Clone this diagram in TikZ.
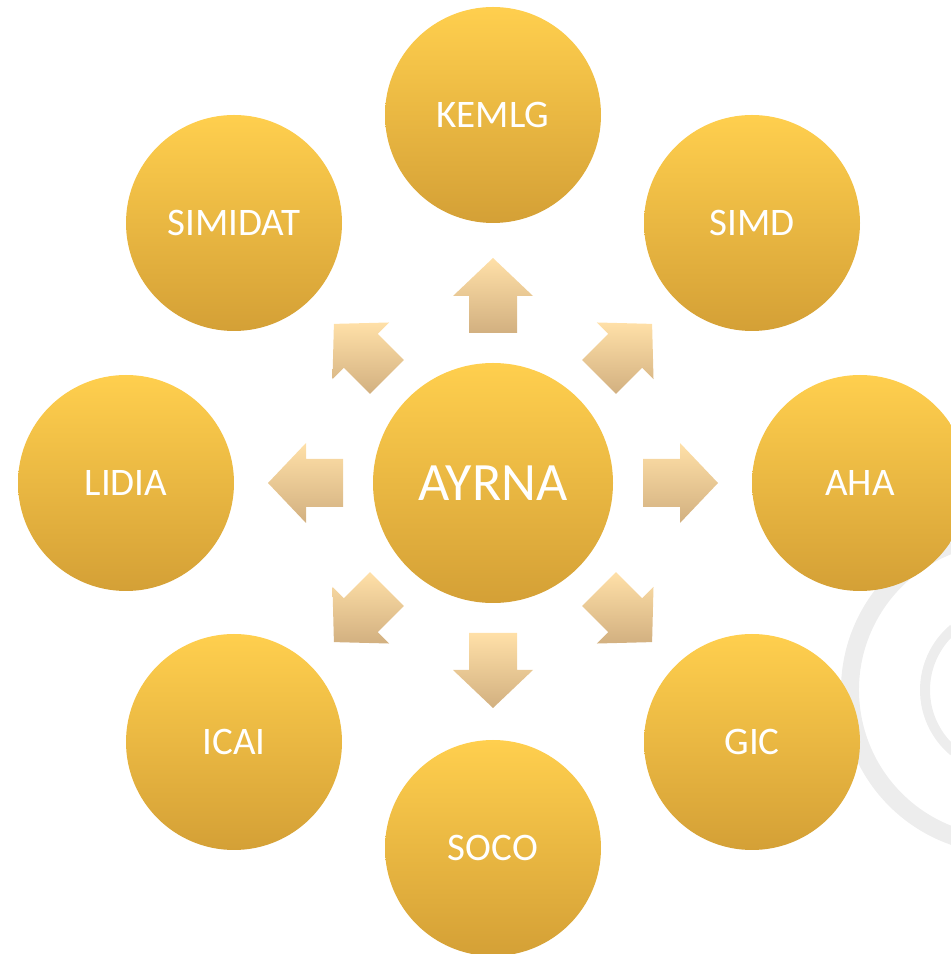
\documentclass[tikz,border=0pt]{standalone}
\usepackage{fontspec}
\setmainfont{Carlito}
\usetikzlibrary{calc}

\definecolor{circleTop}{RGB}{255,207,78}
\definecolor{circleBottom}{RGB}{212,160,54}
\definecolor{arrowTop}{RGB}{255,224,168}
\definecolor{arrowBottom}{RGB}{210,176,128}

\begin{document}
\begin{tikzpicture}[
  x=0.5pt, y=0.5pt,
  groupCircle/.style={circle, inner sep=0pt, minimum size=108pt,
    top color=circleTop, bottom color=circleBottom,
    text=white, font=\fontsize{19.5}{22}\selectfont},
  centerCircle/.style={groupCircle, minimum size=120pt,
    font=\fontsize{27}{30}\selectfont},
  blockArrow/.style={top color=arrowTop, bottom color=arrowBottom},
  watermark/.style={draw=black!7, line width=9pt}]

\useasboundingbox (0,0) rectangle (951,954);
\clip (0,0) rectangle (951,954);

% Faint logo in the background
\draw[watermark] (1005,264) ++(100:155) arc (100:255:155);
\draw[watermark, line width=5pt] (1005,264) ++(130:80) arc (130:230:80);

% The center and the eight groups around it
\node[centerCircle] (ayrna) at (493,471) {AYRNA};
\node[groupCircle] (kemlg) at (493,839) {KEMLG};
\node[groupCircle] (simd) at (752,731) {SIMD};
\node[groupCircle] (aha) at (860,471) {AHA};
\node[groupCircle] (gic) at (752,212) {GIC};
\node[groupCircle] (soco) at (493,106) {SOCO};
\node[groupCircle] (icai) at (234,212) {ICAI};
\node[groupCircle] (lidia) at (126,471) {LIDIA};
\node[groupCircle] (simidat) at (234,731) {SIMIDAT};

% Block arrows pointing out of the center
\foreach \a in {0,45,...,315} {
  \shade[blockArrow]
    ($(ayrna)+(\a:150)+(\a-90:24)$) --
    ($(ayrna)+(\a:187)+(\a-90:24)$) --
    ($(ayrna)+(\a:187)+(\a-90:40)$) --
    ($(ayrna)+(\a:225)$) --
    ($(ayrna)+(\a:187)+(\a+90:40)$) --
    ($(ayrna)+(\a:187)+(\a+90:24)$) --
    ($(ayrna)+(\a:150)+(\a+90:24)$) -- cycle;
}

\end{tikzpicture}
\end{document}
